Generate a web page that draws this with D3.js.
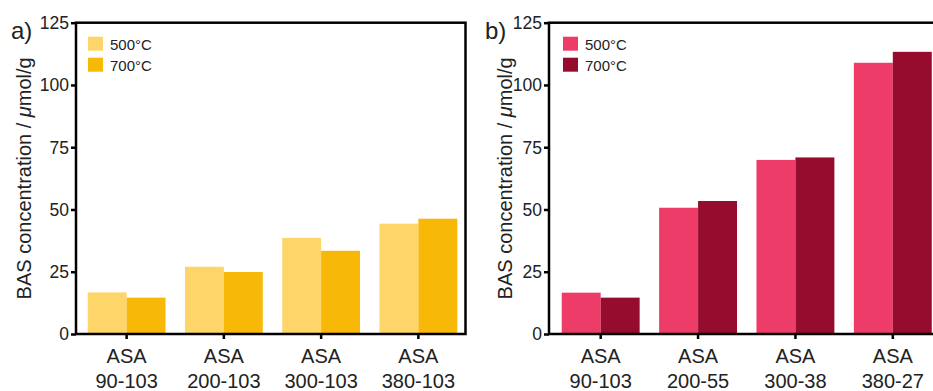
<!DOCTYPE html>
<html><head><meta charset="utf-8">
<script src="https://cdn.jsdelivr.net/npm/d3@7"></script>
<style>body{margin:0;background:#fff}svg{display:block;font-family:"Liberation Sans",Arial,sans-serif}</style>
</head><body><svg id="c" width="933" height="391"></svg>
<script>
const seriesNames = ["500°C", "700°C"];
const categoriesA = [["ASA","90-103"],["ASA","200-103"],["ASA","300-103"],["ASA","380-103"]];
const valuesA500 = [16.7, 27.0, 38.6, 44.3];
const valuesA700 = [14.6, 24.9, 33.4, 46.3];
const categoriesB = [["ASA","90-103"],["ASA","200-55"],["ASA","300-38"],["ASA","380-27"]];
const valuesB500 = [16.6, 50.7, 69.9, 108.9];
const valuesB700 = [14.6, 53.4, 70.9, 113.3];
const yTicks = [0, 25, 50, 75, 100, 125];
const colorsA = ["#FDD568", "#F8B808"];
const colorsB = ["#EE3C68", "#960C2E"];
const yTitle = ["BAS concentration / ", "μ", "mol/g"];

const svg = d3.select("#c");
const plotTop = 22.7, plotBottom = 334;

function panel(opt) {
  const g = svg.append("g");
  const y = d3.scaleLinear().domain([0, 125]).range([plotBottom, plotTop]);
  const labels = opt.cats.map(c => c.join(" "));
  const x0 = d3.scaleBand().domain(labels).range([opt.bandStart, opt.bandEnd]).paddingInner(0.2).paddingOuter(0.1);
  const x1 = d3.scaleBand().domain(seriesNames).range([0, x0.bandwidth()]);
  const data = [opt.v500, opt.v700];
  seriesNames.forEach((s, si) => {
    g.selectAll(null).data(data[si]).join("rect")
      .attr("x", (d, i) => x0(labels[i]) + x1(s))
      .attr("y", d => y(d))
      .attr("width", x1.bandwidth())
      .attr("height", d => y(0) - y(d))
      .attr("fill", opt.colors[si]);
  });
  g.append("rect").attr("x", opt.axisX).attr("y", plotTop).attr("width", opt.frameRight - opt.axisX)
    .attr("height", plotBottom - plotTop).attr("fill", "none").attr("stroke", "#000").attr("stroke-width", 2.5);
  const ya = g.append("g").attr("transform", `translate(${opt.axisX},0)`)
    .call(d3.axisLeft(y).tickValues(yTicks).tickSize(5).tickPadding(2));
  ya.select(".domain").remove();
  ya.selectAll("line").attr("stroke-width", 2.5);
  ya.selectAll("text").attr("font-size", 17.5).attr("font-family", "Liberation Sans, Arial").attr("fill", "#222").attr("dy", "0.34em");
  const xa = g.append("g").attr("transform", `translate(0,${plotBottom})`)
    .call(d3.axisBottom(x0).tickSize(5).tickFormat(""));
  xa.select(".domain").remove();
  xa.selectAll("line").attr("stroke-width", 2.5);
  xa.selectAll(".tick").each(function(d, i) {
    const t = d3.select(this).append("text").attr("fill", "#222").attr("font-size", 20)
      .attr("text-anchor", "middle").attr("font-family", "Liberation Sans, Arial");
    t.append("tspan").attr("x", 0).attr("y", 29).text(opt.cats[i][0]);
    t.append("tspan").attr("x", 0).attr("y", 54).text(opt.cats[i][1]);
  });
  const tt = g.append("text").attr("transform", `translate(${opt.titleX},${(plotTop + plotBottom) / 2}) rotate(-90)`)
    .attr("text-anchor", "middle").attr("font-size", 20).attr("fill", "#222");
  tt.append("tspan").text(yTitle[0]);
  tt.append("tspan").attr("font-style", "italic").text(yTitle[1]);
  tt.append("tspan").text(yTitle[2]);
  g.append("text").attr("x", opt.labelX).attr("y", 39).attr("font-size", 24).attr("fill", "#222").text(opt.label);
  seriesNames.forEach((s, si) => {
    g.append("rect").attr("x", opt.legX).attr("y", 36.7 + si * 21).attr("width", 15).attr("height", 14).attr("fill", opt.colors[si]);
    g.append("text").attr("x", opt.legX + 22).attr("y", 49.5 + si * 21).attr("font-size", 15).attr("fill", "#222").text(s);
  });
}

panel({cats: categoriesA, v500: valuesA500, v700: valuesA700, colors: colorsA,
  axisX: 76, frameRight: 465.5, bandStart: 78, bandEnd: 467, titleX: 31, labelX: 11, label: "a)", legX: 88});
panel({cats: categoriesB, v500: valuesB500, v700: valuesB700, colors: colorsB,
  axisX: 549, frameRight: 942, bandStart: 552, bandEnd: 941.5, titleX: 512, labelX: 485, label: "b)", legX: 563});
</script></body></html>
